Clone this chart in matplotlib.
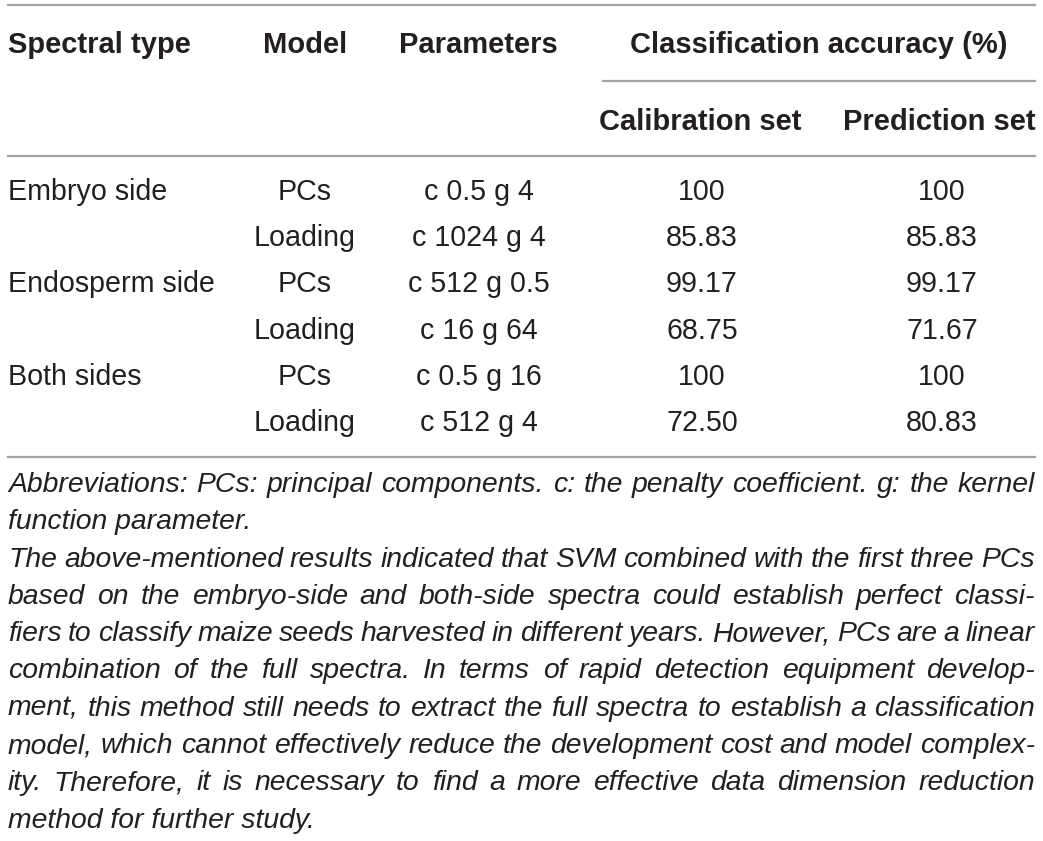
import matplotlib
matplotlib.use("Agg")
import matplotlib.pyplot as plt

plt.rcParams['font.family'] = ['Liberation Sans', 'DejaVu Sans']

# table content
spectral_types = ["Embryo side", "", "Endosperm side", "", "Both sides", ""]
models = ["PCs", "Loading", "PCs", "Loading", "PCs", "Loading"]
params = ["c 0.5 g 4", "c 1024 g 4", "c 512 g 0.5", "c 16 g 64", "c 0.5 g 16", "c 512 g 4"]
calib = ["100", "85.83", "99.17", "68.75", "100", "72.50"]
pred = ["100", "85.83", "99.17", "71.67", "100", "80.83"]

headers = ["Spectral type", "Model", "Parameters", "Classification accuracy (%)"]
subheaders = ["Calibration set", "Prediction set"]

note_lines = [
    "Abbreviations: PCs: principal components. c: the penalty coefficient. g: the kernel",
    "function parameter.",
    "The above-mentioned results indicated that SVM combined with the first three PCs",
    "based on the embryo-side and both-side spectra could establish perfect classi-",
    "fiers to classify maize seeds harvested in different years. However, PCs are a linear",
    "combination of the full spectra. In terms of rapid detection equipment develop-",
    "ment, this method still needs to extract the full spectra to establish a classification",
    "model, which cannot effectively reduce the development cost and model complex-",
    "ity. Therefore, it is necessary to find a more effective data dimension reduction",
    "method for further study.",
]
justified = [True, False, True, True, True, True, True, True, True, False]

W, H = 1043, 841
fig = plt.figure(figsize=(W / 100, H / 100), dpi=100)
ax = fig.add_axes([0, 0, 1, 1])
ax.set_xlim(0, W)
ax.set_ylim(H, 0)
ax.axis("off")

FS_HEAD = 21
FS = 20.6
FS_NOTE = 20.4
TXT = "#231f20"
LINE = "#a3a3a3"
LEFT, RIGHT = 8, 1035

# rules
ax.plot([LEFT, RIGHT], [5, 5], color=LINE, lw=1.6)
ax.plot([603, RIGHT], [81, 81], color=LINE, lw=1.6)
ax.plot([LEFT, RIGHT], [156, 156], color=LINE, lw=1.6)
ax.plot([LEFT, RIGHT], [457, 457], color=LINE, lw=1.6)

# headers
hkw = dict(fontsize=FS_HEAD, weight="bold", color=TXT, va="center")
ax.text(LEFT, 45, headers[0], ha="left", **hkw)
ax.text(305, 45, headers[1], ha="center", **hkw)
ax.text(478, 45, headers[2], ha="center", **hkw)
ax.text(819, 45, headers[3], ha="center", **hkw)
ax.text(700, 122, subheaders[0], ha="center", **hkw)
ax.text(939, 122, subheaders[1], ha="center", **hkw)

# body rows
y0, dy = 192, 46.2
bkw = dict(fontsize=FS, color=TXT, va="center")
for i in range(len(models)):
    y = y0 + i * dy
    if spectral_types[i]:
        ax.text(LEFT, y, spectral_types[i], ha="left", **bkw)
    ax.text(305, y, models[i], ha="center", **bkw)
    ax.text(479, y, params[i], ha="center", **bkw)
    ax.text(702, y, calib[i], ha="center", **bkw)
    ax.text(942, y, pred[i], ha="center", **bkw)

# footnote, justified like the source
renderer = fig.canvas.get_renderer()
nkw = dict(fontsize=FS_NOTE, style="italic", color=TXT, va="center", ha="left")
ny0, ndy = 485, 37.3
for k, line in enumerate(note_lines):
    y = ny0 + k * ndy
    if not justified[k]:
        ax.text(LEFT, y, line, **nkw)
        continue
    words = line.split(" ")
    texts = [ax.text(0, y, w, **nkw) for w in words]
    widths = [t.get_window_extent(renderer).width for t in texts]
    gap = (RIGHT - LEFT - sum(widths)) / (len(words) - 1)
    x = LEFT
    for t, w in zip(texts, widths):
        t.set_x(x)
        x += w + gap

fig.savefig("out.png", dpi=100)
